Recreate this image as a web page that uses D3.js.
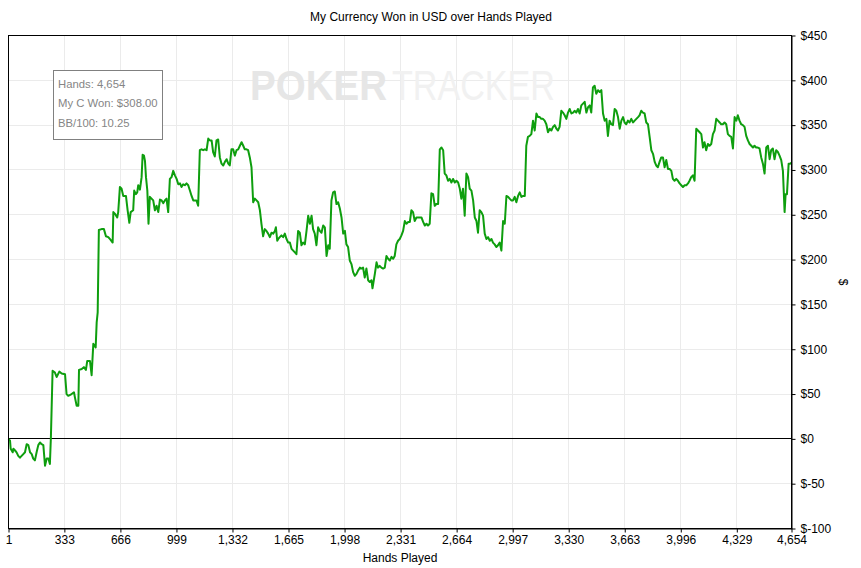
<!DOCTYPE html>
<html>
<head>
<meta charset="utf-8">
<script src="https://cdn.jsdelivr.net/npm/d3@7"></script>
<style>
body { margin: 0; background: #fff; }
text { font-family: "Liberation Sans", Arial, sans-serif; }
</style>
</head>
<body>
<div id="chart"></div>
<script>
var chartTitle = "My Currency Won in USD over Hands Played";
var xTitle = "Hands Played";
var yTitle = "$";
var xTicks = [1, 333, 666, 999, 1332, 1665, 1998, 2331, 2664, 2997, 3330, 3663, 3996, 4329, 4654];
var yTicks = [-100, -50, 0, 50, 100, 150, 200, 250, 300, 350, 400, 450];
var tipLines = ["Hands: 4,654", "My C Won: $308.00", "BB/100: 10.25"];

// [hands played, currency won in USD]
var points = [
  [1,0],[10,-2],[14,-11],[26,-15],[30,-11],[40,-13],[49,-15],[59,-19],[69,-21],[79,-19],[89,-17],[99,-15],
  [109,-6],[119,-7],[129,-15],[139,-17],[148,-22],[158,-24],[168,-15],[178,-7],[188,-4],[198,-6],[208,-7],
  [218,-30],[228,-22],[238,-22],[247,-28],[253,2],[263,76],[277,74],[287,69],[303,75],[317,73],[337,72],
  [346,50],[356,48],[376,50],[390,52],[396,46],[406,37],[416,37],[420,77],[436,78],[449,80],[461,77],
  [469,87],[485,87],[495,71],[505,106],[519,102],[525,130],[531,141],[538,233],[554,234],[568,234],
  [580,226],[594,225],[608,222],[620,219],[624,253],[634,251],[647,247],[653,253],[663,281],[673,279],
  [683,271],[699,271],[709,255],[719,241],[727,253],[742,255],[748,277],[758,273],[766,275],[772,283],
  [782,278],[792,292],[798,317],[806,316],[812,310],[818,292],[826,277],[833,240],[841,270],[851,268],
  [861,266],[871,255],[881,260],[891,253],[901,267],[911,266],[921,263],[930,266],[940,268],[950,253],
  [960,290],[970,292],[980,299],[990,294],[1000,290],[1010,284],[1020,285],[1029,281],[1039,284],
  [1049,283],[1059,285],[1069,283],[1079,277],[1089,271],[1099,266],[1109,266],[1118,266],[1128,260],
  [1138,322],[1148,323],[1158,322],[1168,323],[1178,322],[1188,335],[1198,333],[1208,333],[1217,320],
  [1227,315],[1237,333],[1247,334],[1257,314],[1267,307],[1277,305],[1287,309],[1297,312],[1307,307],
  [1316,305],[1326,323],[1336,323],[1346,316],[1356,322],[1366,323],[1376,327],[1386,331],[1396,327],
  [1405,323],[1415,323],[1425,322],[1435,314],[1445,303],[1455,264],[1465,268],[1475,266],[1485,264],
  [1495,255],[1504,240],[1514,226],[1524,234],[1534,232],[1544,229],[1554,225],[1564,230],[1574,229],
  [1584,232],[1590,236],[1598,221],[1604,223],[1613,225],[1623,227],[1633,225],[1643,229],[1653,223],
  [1663,219],[1673,219],[1683,212],[1693,210],[1703,208],[1712,206],[1722,232],[1732,230],[1742,216],
  [1752,219],[1762,217],[1772,232],[1782,249],[1792,240],[1802,249],[1811,234],[1821,229],[1831,216],
  [1841,236],[1851,232],[1861,230],[1871,238],[1881,236],[1891,204],[1901,216],[1910,212],[1920,266],
  [1930,275],[1940,276],[1950,262],[1960,264],[1970,257],[1980,247],[1990,229],[2000,232],[2009,217],
  [2019,214],[2029,199],[2039,195],[2049,186],[2059,182],[2069,184],[2079,188],[2089,191],[2098,190],
  [2108,191],[2118,180],[2128,190],[2138,177],[2148,175],[2158,177],[2164,168],[2178,184],[2188,197],
  [2197,191],[2207,193],[2217,191],[2227,190],[2237,191],[2247,204],[2257,201],[2267,199],[2277,203],
  [2287,201],[2296,204],[2306,217],[2316,221],[2326,223],[2336,227],[2346,232],[2356,243],[2366,240],
  [2376,242],[2386,242],[2395,255],[2405,253],[2415,243],[2425,247],[2435,247],[2445,247],[2455,247],
  [2465,242],[2475,238],[2485,240],[2494,238],[2504,240],[2514,274],[2524,273],[2534,260],[2544,262],
  [2554,262],[2564,323],[2574,325],[2584,322],[2593,296],[2603,294],[2613,288],[2623,290],[2633,286],
  [2643,290],[2653,286],[2663,288],[2673,286],[2683,279],[2692,268],[2702,279],[2712,249],[2722,296],
  [2732,292],[2742,279],[2752,277],[2762,266],[2772,247],[2782,243],[2791,230],[2801,255],[2811,253],
  [2821,249],[2831,229],[2841,223],[2851,225],[2861,221],[2871,223],[2880,219],[2890,217],[2900,214],
  [2910,216],[2920,219],[2930,210],[2940,243],[2950,240],[2960,271],[2970,270],[2979,268],[2989,266],
  [2999,266],[3009,270],[3019,264],[3029,271],[3039,275],[3049,270],[3059,271],[3069,271],[3078,327],
  [3088,337],[3098,338],[3108,340],[3118,355],[3128,344],[3138,363],[3148,359],[3158,359],[3167,357],
  [3177,357],[3187,355],[3197,351],[3207,342],[3217,346],[3227,344],[3237,348],[3247,350],[3257,346],
  [3266,344],[3276,348],[3286,366],[3296,364],[3306,361],[3316,357],[3326,364],[3336,368],[3346,363],
  [3356,364],[3365,366],[3375,364],[3385,368],[3395,363],[3405,372],[3415,374],[3425,376],[3435,364],
  [3445,370],[3455,372],[3464,364],[3474,392],[3484,394],[3494,385],[3504,389],[3514,387],[3524,389],
  [3534,363],[3544,355],[3554,357],[3563,338],[3573,355],[3583,351],[3593,350],[3603,368],[3613,366],
  [3623,359],[3633,346],[3643,355],[3653,359],[3662,353],[3672,351],[3682,355],[3692,353],[3702,357],
  [3712,353],[3722,355],[3732,357],[3742,359],[3751,361],[3761,366],[3771,364],[3781,363],[3791,353],
  [3801,351],[3811,337],[3821,322],[3831,318],[3841,309],[3850,305],[3860,303],[3870,309],[3880,314],
  [3890,314],[3900,303],[3910,311],[3920,301],[3930,301],[3940,299],[3949,290],[3959,288],[3969,290],
  [3979,288],[3989,285],[3999,283],[4009,281],[4019,283],[4029,283],[4039,285],[4048,288],[4058,292],
  [4068,294],[4078,288],[4088,346],[4098,344],[4108,342],[4118,340],[4128,325],[4137,331],[4147,322],
  [4157,329],[4167,327],[4177,329],[4187,340],[4197,344],[4207,357],[4217,355],[4227,353],[4236,351],
  [4246,351],[4256,353],[4266,351],[4276,340],[4286,338],[4296,337],[4306,324],[4316,359],[4326,355],
  [4335,361],[4345,355],[4355,351],[4365,350],[4375,348],[4385,338],[4395,333],[4405,329],[4415,327],
  [4425,325],[4434,327],[4444,325],[4454,325],[4464,324],[4474,314],[4484,307],[4494,296],[4504,325],
  [4514,327],[4524,312],[4533,322],[4543,324],[4553,312],[4563,322],[4573,320],[4583,316],[4593,311],
  [4603,299],[4613,253],[4619,273],[4627,273],[4637,307],[4646,307],[4654,308]
];

var margin = {top: 35.5, left: 8.5},
    width = 783,
    height = 493;

var svg = d3.select("#chart")
  .append("svg")
  .attr("width", 861)
  .attr("height", 568);

var g = svg.append("g")
  .attr("transform", "translate(" + margin.left + "," + margin.top + ")");

var xScale = d3.scaleLinear()
  .domain([1, 4654])
  .range([0, width]);

var yScale = d3.scaleLinear()
  .domain([-100, 450])
  .range([height, 0]);

// grid
g.append("g")
  .selectAll("line")
  .data(xTicks)
  .enter()
  .append("line")
    .attr("x1", function (d) { return Math.round(xScale(d)); })
    .attr("x2", function (d) { return Math.round(xScale(d)); })
    .attr("y1", 0)
    .attr("y2", height)
    .style("stroke", "#ebebeb");

g.append("g")
  .selectAll("line")
  .data(yTicks)
  .enter()
  .append("line")
    .attr("x1", 0)
    .attr("x2", width)
    .attr("y1", function (d) { return Math.round(yScale(d)); })
    .attr("y2", function (d) { return Math.round(yScale(d)); })
    .style("stroke", "#ebebeb");

// watermark
var wm = svg.append("g").style("font-family", "Roboto, 'Liberation Sans', sans-serif");
wm.append("text")
  .attr("x", 250).attr("y", 100)
  .attr("font-size", 42).attr("font-weight", "bold")
  .attr("textLength", 137).attr("lengthAdjust", "spacingAndGlyphs")
  .style("fill", "#e6e6e6")
  .text("POKER");
wm.append("text")
  .attr("x", 392).attr("y", 100)
  .attr("font-size", 42).attr("font-weight", 300)
  .attr("textLength", 163).attr("lengthAdjust", "spacingAndGlyphs")
  .style("fill", "#f1f1f1")
  .text("TRACKER");

// zero line
g.append("line")
  .attr("x1", 0).attr("x2", width)
  .attr("y1", Math.round(yScale(0))).attr("y2", Math.round(yScale(0)))
  .style("stroke", "#000");

// series
var line = d3.line()
  .x(function (d) { return xScale(d[0]); })
  .y(function (d) { return yScale(d[1]); });

g.append("path")
  .datum(points)
  .attr("d", line)
  .style("fill", "none")
  .style("stroke", "#0e9e0e")
  .style("stroke-width", 2)
  .style("stroke-linejoin", "round");

// frame
g.append("rect")
  .attr("width", width).attr("height", height)
  .style("fill", "none").style("stroke", "#000");

// axes
var xAxis = g.append("g")
  .attr("transform", "translate(0," + height + ")")
  .call(d3.axisBottom(xScale).tickValues(xTicks).tickFormat(d3.format(",")).tickSize(4).tickSizeOuter(0));

var yAxis = g.append("g")
  .attr("transform", "translate(" + width + ",0)")
  .call(d3.axisRight(yScale).tickValues(yTicks).tickFormat(function (d) { return "$" + d; }).tickSize(4).tickPadding(5).tickSizeOuter(0));

[xAxis, yAxis].forEach(function (a) {
  a.attr("font-family", "'Liberation Sans', Arial, sans-serif").attr("font-size", 12);
  a.selectAll("text").style("fill", "#000");
  a.selectAll("line, path").style("stroke", "#000");
});

// titles
svg.append("text")
  .attr("x", 431).attr("y", 21)
  .attr("text-anchor", "middle")
  .attr("font-size", 12)
  .text(chartTitle);

svg.append("text")
  .attr("x", margin.left + width / 2).attr("y", 562)
  .attr("text-anchor", "middle")
  .attr("font-size", 12)
  .text(xTitle);

svg.append("text")
  .attr("transform", "translate(839," + (margin.top + height / 2) + ") rotate(90)")
  .attr("text-anchor", "middle")
  .attr("font-size", 12)
  .text(yTitle);

// tooltip box
var tip = svg.append("g");
tip.append("rect")
  .attr("x", 53.5).attr("y", 70.5)
  .attr("width", 109).attr("height", 69)
  .style("fill", "#fff")
  .style("stroke", "#808080");
tip.selectAll("text")
  .data(tipLines)
  .enter()
  .append("text")
    .attr("x", 58)
    .attr("y", function (d, i) { return 87.5 + i * 19.5; })
    .attr("font-size", 11.3)
    .style("fill", "#858585")
    .text(function (d) { return d; });
</script>
</body>
</html>
